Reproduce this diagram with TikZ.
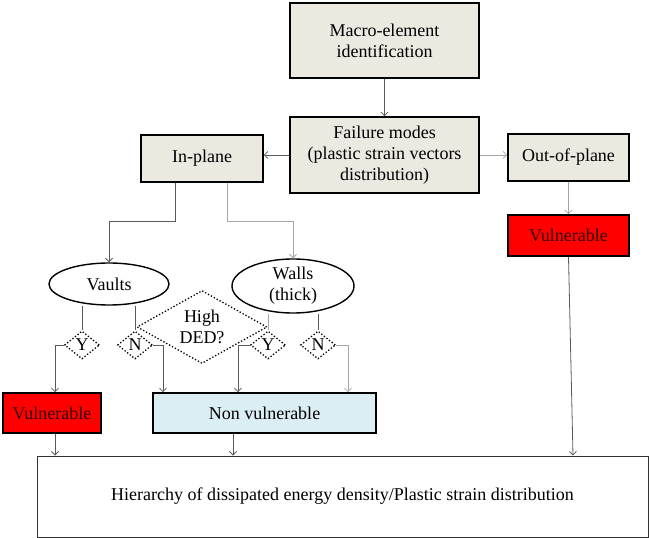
\documentclass[tikz,border=0pt]{standalone}
\usepackage{fontspec}
\setmainfont{Liberation Serif}
\usetikzlibrary{arrows.meta,shapes.geometric}
\definecolor{boxfill}{RGB}{236,233,224}
\definecolor{nonvfill}{RGB}{219,238,243}
\tikzset{
  box/.style={draw,line width=1.6pt,fill=boxfill,align=center,inner sep=2pt},
  vul/.style={box,fill=red,text=black!80!red},
  oval/.style={draw,line width=1.4pt,ellipse,fill=white,align=center,inner sep=0pt},
  ask/.style={draw,dotted,line width=1.3pt,diamond,align=center,inner sep=0pt},
  ln/.style={draw=black!65,line width=0.8pt},
  lnl/.style={ln,draw=black!35},
  arr/.style={ln,-{Straight Barb[length=3.5pt,width=7pt]}},
  arrl/.style={arr,draw=black!35},
}
\begin{document}
\begin{tikzpicture}[x=1pt,y=-1pt,font=\fontsize{18}{21}\selectfont]
\useasboundingbox (0,0) rectangle (649,538);
% boxes
\node[box,minimum width=189pt,minimum height=75pt] (macro) at (384.5,40.5) {Macro-element\\identification};
\node[box,minimum width=189pt,minimum height=76pt] (fail) at (384.5,155) {Failure modes\\(plastic strain vectors\\distribution)};
\node[box,minimum width=122pt,minimum height=47pt] (inpl) at (202,158.5) {In-plane};
\node[box,minimum width=121pt,minimum height=47pt] (outpl) at (568.5,157.5) {Out-of-plane};
\node[vul,minimum width=121pt,minimum height=41pt] (vulr) at (568.5,235.5) {Vulnerable};
\node[oval,minimum width=120pt,minimum height=42pt] (vaults) at (109,284) {Vaults};
\node[oval,minimum width=122pt,minimum height=54pt] (walls) at (293,286) {Walls\\(thick)};
\node[ask,shape aspect=2,minimum width=130pt,minimum height=73pt] (ded) at (202,327) {High\\DED?};
\foreach \n/\x/\t in {y1/82/Y,n1/135/N,y2/268/Y,n2/318/N} {
  \node[ask,minimum width=35pt,minimum height=28pt] (\n) at (\x,345) {\t};
}
\node[vul,minimum width=98pt,minimum height=40pt] (vull) at (52,413) {Vulnerable};
\node[box,fill=nonvfill,minimum width=223pt,minimum height=40pt] (nonv) at (264.5,413) {Non vulnerable};
\node[draw=black!80,line width=1pt,minimum width=611pt,minimum height=81pt] (hier) at (342.5,496.5) {Hierarchy of dissipated energy density/Plastic strain distribution};
% connectors
\draw[arr] (macro.south) -- (fail.north);
\draw[arr] (fail.west) -- (fail.west -| inpl.east);
\draw[arrl] (fail.east) -- (fail.east -| outpl.west);
\draw[arrl] (outpl.south) -- (vulr.north);
\draw[arr] ([xshift=-27pt]inpl.south) -- ++(0,39) -| (vaults.north);
\draw[arrl] ([xshift=25pt]inpl.south) -- ++(0,39) -| (walls.north);
\draw[ln] (vaults.south -| y1.north) -- (y1.north);
\draw[ln] (vaults.south -| n1.north) -- (n1.north);
\draw[lnl] (walls.south -| y2.north) -- (y2.north);
\draw[ln] (walls.south -| n2.north) -- (n2.north);
\draw[arr] (y1.west) -| ([xshift=3pt]vull.north);
\draw[arr] (n1.east) -| ([xshift=-101.5pt]nonv.north);
\draw[arr] (y2.west) -| ([xshift=-26.5pt]nonv.north);
\draw[arrl] (n2.east) -| ([xshift=83.5pt]nonv.north);
\draw[arr] ([xshift=3pt]vull.south) -- ([xshift=3pt]vull.south |- hier.north);
\draw[arr] ([xshift=-31.5pt]nonv.south) -- ([xshift=-31.5pt]nonv.south |- hier.north);
\draw[arr] (vulr.south) -- ([xshift=4.5pt]vulr.south |- hier.north);
\end{tikzpicture}
\end{document}
